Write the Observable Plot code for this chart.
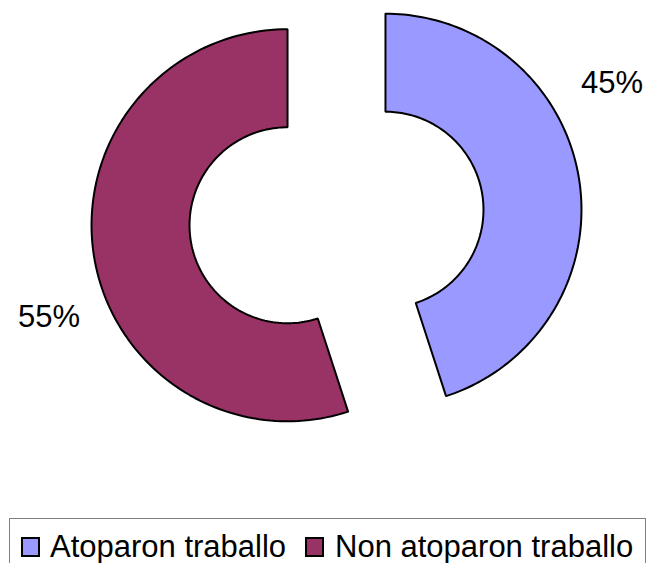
<!DOCTYPE html>
<html>
<head>
<meta charset="utf-8">
<script src="https://cdn.jsdelivr.net/npm/d3@7"></script>
<script src="https://cdn.jsdelivr.net/npm/@observablehq/plot@0.6"></script>
<style>
  html, body { margin: 0; padding: 0; background: #fff; }
  #wrap { position: relative; width: 648px; height: 563px; overflow: hidden; font-family: "Liberation Sans", Arial, sans-serif; }
  #chart svg { display: block; }
  .lgbox { position: absolute; left: 9px; top: 518px; width: 637px; height: 60px; border: 1px solid #808080; box-sizing: border-box; }
  .sw { position: absolute; top: 537px; width: 19px; height: 20px; border: 2px solid #000; box-sizing: border-box; }
  .lt { position: absolute; top: 531px; font-size: 31px; line-height: 31px; color: #000; white-space: nowrap; }
</style>
</head>
<body>
<div id="wrap">
  <div id="chart"></div>
  <div class="lgbox"></div>
</div>
<script>
// Data
const names = ["Atoparon traballo", "Non atoparon traballo"];
const values = [45, 55];
const labels = ["45%", "55%"];
const colors = ["#9999FF", "#993366"];

// Geometry / layout settings (not data)
const outerR = 1, innerR = 0.5, explode = 0.253;
const labelPos = [{x: 1.406, y: 0.684}, {x: -1.467, y: -0.510}];
const W = 648, H = 505, cxPx = 336, cyPx = 217, Rpx = 196;

const pie = d3.pie().sort(null).value(d => d)(values);
const N = 120;
const pts = [];
pie.forEach((p, i) => {
  const a0 = p.startAngle, a1 = p.endAngle, mid = (a0 + a1) / 2;
  const ox = explode * Math.sin(mid), oy = explode * Math.cos(mid);
  const ring = [];
  for (let k = 0; k <= N; k++) {
    const t = a0 + (a1 - a0) * k / N;
    ring.push({name: names[i], x: ox + outerR * Math.sin(t), y: oy + outerR * Math.cos(t)});
  }
  for (let k = N; k >= 0; k--) {
    const t = a0 + (a1 - a0) * k / N;
    ring.push({name: names[i], x: ox + innerR * Math.sin(t), y: oy + innerR * Math.cos(t)});
  }
  ring.push({...ring[0]});
  pts.push(...ring);
});

const labelData = labels.map((l, i) => ({label: l, x: labelPos[i].x, y: labelPos[i].y}));

const plot = Plot.plot({
  width: W,
  height: H,
  margin: 0,
  style: {background: "#fff", overflow: "visible"},
  x: {domain: [-cxPx / Rpx, (W - cxPx) / Rpx], axis: null},
  y: {domain: [-(H - cyPx) / Rpx, cyPx / Rpx], axis: null},
  color: {domain: names, range: colors},
  marks: [
    Plot.line(pts, {x: "x", y: "y", z: "name", fill: "name", stroke: "#000", strokeWidth: 2, strokeLinejoin: "miter"}),
    Plot.text(labelData, {x: "x", y: "y", text: "label", fontSize: 31, fill: "#000", fontFamily: "Liberation Sans, Arial, sans-serif"})
  ]
});
document.getElementById("chart").appendChild(plot);

// Legend (HTML, below the svg)
const wrap = document.getElementById("wrap");
const swLeft = [21, 305], txtLeft = [50, 335];
names.forEach((n, i) => {
  const s = document.createElement("div");
  s.className = "sw";
  s.style.left = swLeft[i] + "px";
  s.style.background = colors[i];
  wrap.appendChild(s);
  const t = document.createElement("div");
  t.className = "lt";
  t.style.left = txtLeft[i] + "px";
  t.textContent = n;
  wrap.appendChild(t);
});
</script>
</body>
</html>
